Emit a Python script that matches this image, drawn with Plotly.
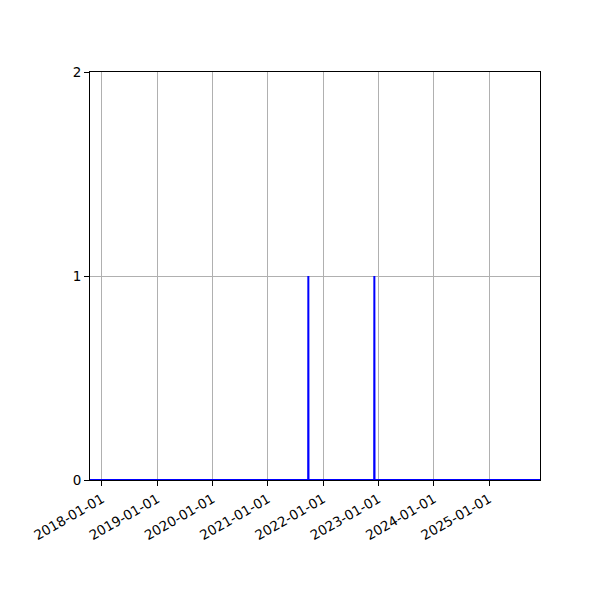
import plotly.graph_objects as go

# Event series: zero everywhere except two single-day spikes
dates = ["2017-10-14", "2021-09-24", "2021-09-25", "2021-09-26",
         "2022-12-04", "2022-12-05", "2022-12-06", "2025-12-03"]
counts = [0, 0, 1, 0, 0, 1, 0, 0]

tick_dates = ["2018-01-01", "2019-01-01", "2020-01-01", "2021-01-01",
              "2022-01-01", "2023-01-01", "2024-01-01", "2025-01-01"]
y_ticks = [0, 1, 2]

fig = go.Figure()
fig.add_trace(go.Scatter(
    x=dates, y=counts, mode="lines",
    line=dict(color="blue", width=2),
    showlegend=False,
))

axis_common = dict(
    showgrid=True, gridcolor="#b0b0b0", gridwidth=1.1,
    showline=True, linecolor="black", linewidth=1.1, mirror=True,
    ticks="outside", ticklen=5, tickcolor="black", tickwidth=1.1,
    zeroline=False,
    tickfont=dict(family="DejaVu Sans", size=13.5, color="black"),
)

fig.update_xaxes(
    type="date", range=[dates[0], dates[-1]],
    tickmode="array", tickvals=tick_dates, ticktext=tick_dates,
    tickangle=-30, **axis_common,
)
fig.update_yaxes(
    range=[0, 2], tickmode="array", tickvals=y_ticks,
    ticktext=[str(v) for v in y_ticks], **axis_common,
)

# page body adds 8px offset, so margins are shifted accordingly
fig.update_layout(
    width=600, height=600,
    margin=dict(l=82, r=68, t=64, b=128),
    plot_bgcolor="white", paper_bgcolor="white",
    font=dict(family="DejaVu Sans"),
)

fig.write_html("out.html")
